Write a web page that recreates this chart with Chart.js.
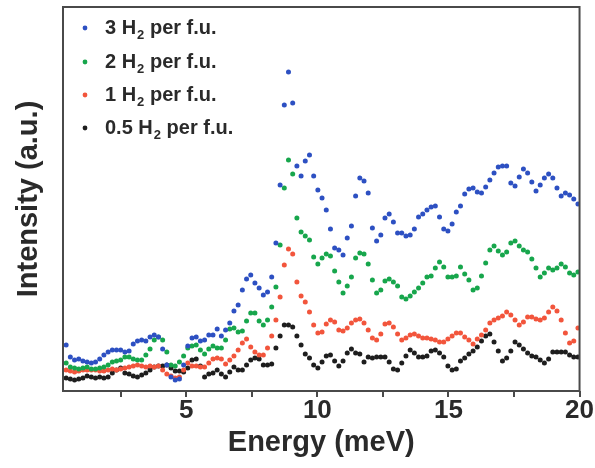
<!DOCTYPE html>
<html>
<head>
<meta charset="utf-8">
<script src="https://cdn.jsdelivr.net/npm/chart.js@4.4.1/dist/chart.umd.min.js"></script>
<style>
  html, body { margin:0; padding:0; background:#fff; }
  #wrap { width:595px; height:468px; }
</style>
</head>
<body>
<div id="wrap"><canvas id="spec"></canvas></div>
<script>
/* energy transfer (meV) */
const energy = [
  0.42,0.58,0.74,0.90,1.06,1.22,1.38,1.54,1.70,1.86,
  2.02,2.18,2.34,2.50,2.66,2.82,2.98,3.14,3.30,3.46,
  3.62,3.78,3.94,4.10,4.26,4.42,4.58,4.74,4.90,5.06,
  5.22,5.38,5.54,5.70,5.86,6.02,6.18,6.34,6.50,6.66,
  6.82,6.98,7.14,7.30,7.46,7.62,7.78,7.94,8.10,8.26,
  8.42,8.58,8.74,8.90,9.06,9.22,9.38,9.54,9.70,9.86,
  10.02,10.18,10.34,10.50,10.66,10.82,10.98,11.14,11.30,11.46,
  11.62,11.78,11.94,12.10,12.26,12.42,12.58,12.74,12.90,13.06,
  13.22,13.38,13.54,13.70,13.86,14.02,14.18,14.34,14.50,14.66,
  14.82,14.98,15.14,15.30,15.46,15.62,15.78,15.94,16.10,16.26,
  16.42,16.58,16.74,16.90,17.06,17.22,17.38,17.54,17.70,17.86,
  18.02,18.18,18.34,18.50,18.66,18.82,18.98,19.14,19.30,19.46,
  19.62,19.78,19.94
];
/* intensity (a.u.) per loading */
const h3 = [
  46,34,31,32,30,29,28,29,32,36,
  39,41,41,41,39,40,47,50,51,50,
  54,56,54,42,26,14,11,12,26,45,
  53,54,50,51,56,56,62,55,61,68,
  80,86,101,112,116,108,103,96,99,114,
  148,206,286,319,288,225,215,230,236,215,
  201,193,181,162,143,141,136,153,165,195,
  213,210,198,163,150,156,173,177,169,158,
  158,155,156,162,174,177,181,184,185,174,
  162,160,167,179,185,197,202,203,199,198,
  204,211,218,224,225,225,208,205,214,222,
  218,209,200,206,213,217,213,203,195,198,
  196,192,187
];
const h2 = [
  28,24,23,22,23,24,22,22,23,24,
  26,29,30,31,34,34,32,31,31,36,
  42,51,54,51,39,26,25,29,35,43,
  45,46,41,37,42,45,43,43,51,62,
  63,59,60,70,78,78,70,66,71,84,
  104,146,203,231,217,173,159,155,151,134,
  127,133,137,135,120,109,98,105,114,133,
  138,137,127,111,98,101,110,112,109,105,
  94,92,95,99,103,108,114,115,123,129,
  124,114,114,115,124,117,111,101,103,115,
  128,141,145,140,136,139,148,150,145,141,
  139,132,123,114,118,123,121,123,127,124,
  118,116,119
];
const h1 = [
  21,20,19,20,21,21,21,21,20,20,
  21,22,21,22,23,24,25,26,25,24,
  25,24,25,21,17,15,13,14,21,28,
  25,25,24,24,28,32,33,32,27,31,
  35,41,48,52,44,39,36,36,43,55,
  71,94,126,142,137,109,95,89,79,66,
  58,59,67,71,69,61,60,63,68,71,
  72,68,61,53,51,57,67,68,64,57,
  51,53,56,57,55,53,53,52,51,49,
  49,52,55,58,58,54,51,47,52,56,
  61,68,71,73,75,79,76,71,66,69,
  74,74,72,71,73,79,84,80,71,58,
  48,50,63
];
const h05 = [
  13,12,11,12,13,15,14,13,14,13,
  14,18,21,23,18,17,15,14,16,18,
  21,24,25,25,26,23,20,20,19,23,
  31,32,25,14,17,18,21,17,14,19,
  24,21,21,26,31,33,32,26,26,27,
  43,55,66,66,64,55,46,37,33,26,
  23,29,35,36,30,25,30,38,42,38,
  37,29,34,33,34,34,34,29,22,21,
  28,35,41,38,34,34,35,40,41,38,
  34,25,21,22,30,33,37,40,44,50,
  55,57,49,40,30,33,40,49,46,42,
  38,35,34,31,28,32,39,39,39,39,
  36,34,34
];
const loadings = ['3', '2', '1', '0.5'];
const colors = ['#2d50c2', '#17a64c', '#f2553c', '#1e1e1e'];
const xTicks = [2.5, 5, 7.5, 10, 12.5, 15, 17.5, 20];

const pts = arr => arr.map((v, i) => ({ x: energy[i], y: v }));

// legend inside the frame, with H2 subscript
const legendIn = {
  id: 'legendIn',
  afterDraw(chart) {
    const ctx = chart.ctx;
    const rows = [28, 62, 95, 128];
    ctx.save();
    ctx.textBaseline = 'middle';
    loadings.forEach((n, i) => {
      const y = rows[i];
      ctx.fillStyle = colors[i];
      ctx.beginPath(); ctx.arc(85, y, 2.4, 0, Math.PI * 2); ctx.fill();
      ctx.fillStyle = '#2a2a2a';
      ctx.font = 'bold 20px "Liberation Sans", Arial, sans-serif';
      let x = 105;
      const a = n + ' H';
      ctx.fillText(a, x, y); x += ctx.measureText(a).width;
      ctx.font = 'bold 13px "Liberation Sans", Arial, sans-serif';
      ctx.fillText('2', x + 1, y + 7); x += ctx.measureText('2').width + 1;
      ctx.font = 'bold 20px "Liberation Sans", Arial, sans-serif';
      ctx.fillText(' per f.u.', x, y);
    });
    // frame
    const a = chart.chartArea;
    ctx.strokeStyle = '#4a4a4a';
    ctx.lineWidth = 2;
    ctx.strokeRect(a.left, a.top, a.right - a.left, a.bottom - a.top);
    ctx.restore();
  }
};

new Chart(document.getElementById('spec'), {
  type: 'scatter',
  data: {
    datasets: [h3, h2, h1, h05].map((d, i) => ({
      label: loadings[i] + ' H2 per f.u.',
      data: pts(d),
      backgroundColor: colors[i],
      borderColor: colors[i],
      borderWidth: 0,
      pointRadius: 2.5
    }))
  },
  options: {
    responsive: true, maintainAspectRatio: false, animation: false,
    layout: { padding: { top: 7, right: 15, left: 0, bottom: 0 } },
    plugins: { legend: { display: false }, tooltip: { enabled: false } },
    scales: {
      x: {
        type: 'linear', min: 0.3, max: 20,
        afterFit: s => { s.height = 77; },
        afterBuildTicks: s => { s.ticks = xTicks.map(v => ({ value: v })); },
        border: { display: false },
        grid: { drawOnChartArea: false, drawTicks: true, tickLength: 6, color: '#4a4a4a', lineWidth: 2 },
        ticks: {
          autoSkip: false, maxRotation: 0, padding: 1,
          color: '#2a2a2a',
          font: { family: '"Liberation Sans", Arial, sans-serif', size: 26, weight: 'bold', lineHeight: 1 },
          callback: v => (v % 5 === 0 ? String(v) : '')
        },
        title: {
          display: true, text: 'Energy (meV)', color: '#2a2a2a',
          font: { family: '"Liberation Sans", Arial, sans-serif', size: 29, weight: 'bold', lineHeight: 1.2 },
          padding: { top: 0, bottom: 8 }
        }
      },
      y: {
        min: 0, max: 384,
        afterFit: s => { s.width = 63; },
        border: { display: false },
        grid: { drawOnChartArea: false, drawTicks: false },
        ticks: { display: false },
        title: {
          display: true, text: 'Intensity (a.u.)', color: '#2a2a2a',
          font: { family: '"Liberation Sans", Arial, sans-serif', size: 29, weight: 'bold', lineHeight: 1.2 },
          padding: { top: 12, bottom: 0 }
        }
      }
    }
  },
  plugins: [legendIn]
});
</script>
</body>
</html>
